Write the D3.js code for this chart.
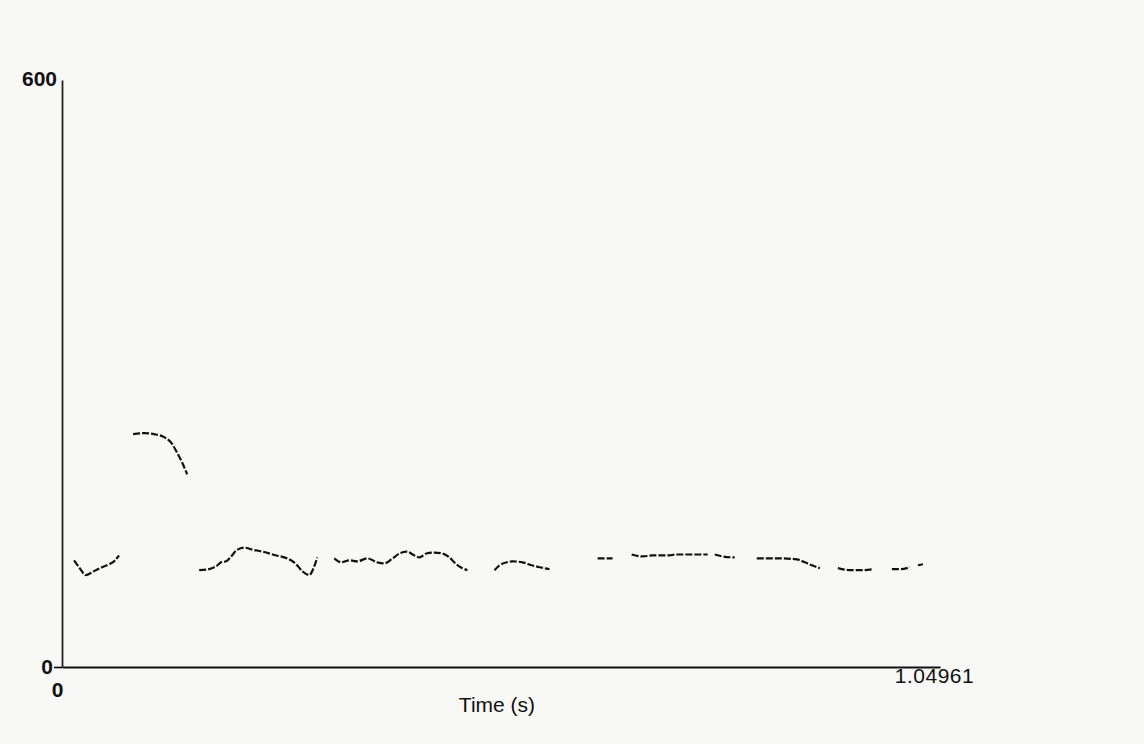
<!DOCTYPE html>
<meta charset="utf-8">
<script src="https://d3js.org/d3.v7.min.js"></script>
<style>
  body { margin: 0; background: #f8f8f6; }
  text { font-family: "Liberation Sans", Arial, sans-serif; fill: #111; }
</style>
<div id="my_dataviz"></div>
<script>

  // pitch track, one array per voiced stretch: [time (s), pitch (Hz)]
  var segA = [[0.0144,109],[0.0203,102],[0.0287,94],[0.0383,98],[0.0479,102],[0.0562,105],[0.0622,108],[0.0682,114]];
  var segB = [[0.0850,238],[0.0981,239],[0.1101,238],[0.1221,235],[0.1316,228],[0.1376,219],[0.1436,209],[0.1496,197]];
  var segC = [[0.1640,99],[0.1759,100],[0.1843,103],[0.1903,107],[0.1963,108],[0.2023,113],[0.2082,119],[0.2178,122],
              [0.2274,120],[0.2394,118],[0.2561,114],[0.2693,111],[0.2801,105],[0.2872,98],[0.2956,94],[0.3016,103],[0.3052,112]];
  var segD = [[0.3255,111],[0.3339,107],[0.3435,109],[0.3531,108],[0.3650,111],[0.3770,107],[0.3854,106],[0.3937,110],
              [0.4033,116],[0.4117,118],[0.4213,114],[0.4273,112],[0.4356,116],[0.4452,117],[0.4548,116],[0.4632,112],
              [0.4715,105],[0.4787,101],[0.4847,99]];
  var segE = [[0.5170,99],[0.5230,104],[0.5314,107],[0.5386,108],[0.5505,107],[0.5613,104],[0.5709,102],[0.5828,100]];
  var segF = [[0.6403,111],[0.6582,111]];
  var segG = [[0.6810,115],[0.6941,113],[0.7061,114],[0.7241,114],[0.7348,115],[0.7504,115],[0.7719,115]];
  var segH = [[0.7803,115],[0.7899,113],[0.8042,112]];
  var segI = [[0.8306,111],[0.8581,111],[0.8785,110],[0.8880,107],[0.8964,104],[0.9060,101]];
  var segJ = [[0.9275,101],[0.9418,99],[0.9562,99],[0.9694,100]];
  var segK = [[0.9921,100],[1.0017,100],[1.0137,102]];
  var segL = [[1.0232,104],[1.0292,105]];
  var segments = [segA, segB, segC, segD, segE, segF, segG, segH, segI, segJ, segK, segL];

  var timeMax = 1.04961;
  var yTicks = [0, 600];

  var margin = {top: 80, right: 204, bottom: 77, left: 62},
    width = 1144 - margin.left - margin.right,
    height = 744 - margin.top - margin.bottom;

  var svg = d3.select("#my_dataviz")
    .append("svg")
      .attr("width", 1144)
      .attr("height", 744)
    .append("g")
      .attr("transform", "translate(" + margin.left + "," + margin.top + ")");

  var x = d3.scaleLinear().domain([0, timeMax]).range([0, width]);
  var y = d3.scaleLinear().domain([0, 600]).range([height, 0]);

  // y axis: just the line and the two end values
  var yAxis = svg.append("g")
    .call(d3.axisLeft(y).tickValues(yTicks).tickSize(8).tickSizeOuter(0).tickFormat(d3.format("d")));
  yAxis.selectAll("text").style("font-size", "21px").style("font-weight", "bold");
  yAxis.select(".tick:first-of-type text").attr("x", -9).attr("dy", "0.32em");
  yAxis.select(".tick:last-of-type text").attr("x", -5).attr("dy", "0.25em");
  yAxis.select(".tick:last-of-type line").remove();
  yAxis.selectAll(".tick line").attr("stroke-width", 1.6);
  yAxis.select(".domain").attr("stroke", "#222").attr("stroke-width", 1.8);

  // x axis
  var xAxis = svg.append("g")
    .attr("transform", "translate(0," + height + ")")
    .call(d3.axisBottom(x).tickValues([0, timeMax]).tickSize(0).tickSizeOuter(0)
      .tickFormat(function(d){ return d === 0 ? "0" : "1.04961"; }));
  xAxis.select(".domain").attr("stroke", "#111").attr("stroke-width", 2.2);
  xAxis.selectAll("text").style("font-size", "21px");
  xAxis.select(".tick:first-of-type text").attr("x", -5).attr("y", 10).attr("dy", "0.95em").style("font-weight", "bold");
  xAxis.select(".tick:last-of-type text").attr("x", -6).attr("y", 1).style("letter-spacing", "0.5px");

  svg.append("text")
    .attr("x", x(0.52))
    .attr("y", height + 45)
    .attr("text-anchor", "middle")
    .style("font-size", "21px")
    .text("Time (s)");

  // pitch contour
  var line = d3.line()
    .x(function(d){ return x(d[0]); })
    .y(function(d){ return y(d[1]); })
    .curve(d3.curveMonotoneX);

  svg.selectAll("mysegments")
    .data(segments)
    .enter()
    .append("path")
      .attr("d", line)
      .attr("fill", "none")
      .attr("stroke", "#111")
      .attr("stroke-width", 2.2)
      .attr("stroke-dasharray", "7,2");

</script>
